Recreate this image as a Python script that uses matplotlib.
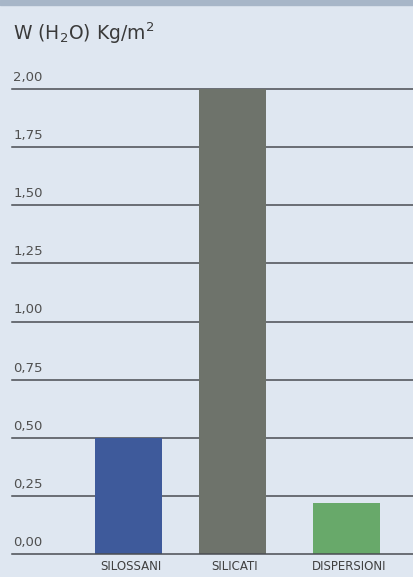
import numpy as np
import matplotlib.pyplot as plt
from matplotlib.patches import Rectangle

categories = ["SILOSSANI", "SILICATI", "DISPERSIONI"]
values = [0.50, 2.00, 0.22]
colors = ["#3e5a9b", "#6e736b", "#68a96a"]
yticks = [0.0, 0.25, 0.5, 0.75, 1.0, 1.25, 1.5, 1.75, 2.0]
ytick_labels = ["0,00", "0,25", "0,50", "0,75", "1,00", "1,25", "1,50", "1,75", "2,00"]
title = r"W (H$_2$O) Kg/m$^2$"

W, H = 413, 577
fig = plt.figure(figsize=(W / 100, H / 100), dpi=100)
fig.patch.set_facecolor("#dfe7f1")
plt.rcParams["font.family"] = ["DejaVu Sans"]

# top stripe
fig.patches.append(Rectangle((0, 1 - 5 / H), 1, 5 / H, transform=fig.transFigure,
                             color="#a7b6c8", zorder=0))

left, right = 12 / W, 1.0
bottom, top = (H - 554) / H, (H - 89) / H
ax = fig.add_axes([left, bottom, right - left, top - bottom])
ax.set_facecolor("none")

# bar positions (slightly uneven, as in the original layout)
x = np.array([0.0, 0.95, 2.0])
ax.bar(x, values, width=0.615, color=colors, zorder=3)

ax.set_ylim(0, 2.0)
ax.set_xlim(-1.073, 2.606)

for yv, lab in zip(yticks, ytick_labels):
    ax.axhline(yv, color="#4a4d52", lw=1.1, zorder=4 if yv == 0 else 2, clip_on=False)
    ax.text(0.003, yv + 0.022, lab, transform=ax.get_yaxis_transform(),
            fontsize=9.5, color="#505050", ha="left", va="bottom")

for xi, cat in zip(x, categories):
    ax.text(xi + 0.02, -0.025, cat, fontsize=8.5, color="#404040", ha="center", va="top")

for s in ax.spines.values():
    s.set_visible(False)
ax.set_xticks([])
ax.set_yticks([])

fig.text(13 / W, 1 - 33 / H, title, fontsize=13.5, color="#3a3a3a", ha="left", va="center")

plt.savefig("out.png", dpi=100, facecolor=fig.get_facecolor())
plt.close()
